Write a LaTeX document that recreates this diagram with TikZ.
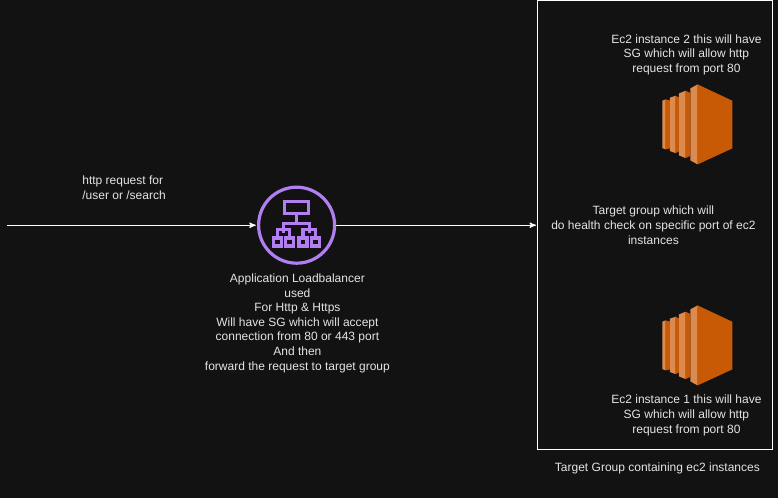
\documentclass[tikz,border=0pt]{standalone}
\usepackage{fontspec}
\setmainfont{Liberation Sans}
\usetikzlibrary{positioning}
\usetikzlibrary{arrows}
\definecolor{canvas}{HTML}{121212}
\definecolor{labelgrey}{HTML}{E4E4E4}
\definecolor{albpurple}{HTML}{B17FF2}
\definecolor{ecdark}{HTML}{C85A06}
\definecolor{eclight}{HTML}{DC8B50}
\tikzset{
  ecicon/.pic={
    \begin{scope}[x=0.025cm,y=-0.025cm]
      \fill[ecdark] (0,-40) -- (34.7,-23.7) -- (34.7,24) -- (0,40) -- cycle;
      \fill[eclight] (-7.3,-36) -- (0,-40) -- (0,40) -- (-7.3,36) -- cycle;
      \fill[ecdark] (-12,-33.7) -- (-7.3,-31.5) -- (-7.3,31.5) -- (-12,33.7) -- cycle;
      \fill[eclight] (-18.7,-31) -- (-12,-33.7) -- (-12,33.7) -- (-18.7,31) -- cycle;
      \fill[ecdark] (-22,-28.7) -- (-18.7,-27) -- (-18.7,27) -- (-22,28.7) -- cycle;
      \fill[eclight] (-27.7,-26.7) -- (-22,-28.7) -- (-22,28.7) -- (-27.7,26.7) -- cycle;
      \fill[ecdark] (-32,-25) -- (-27.7,-24) -- (-27.7,24) -- (-32,25) -- cycle;
      \fill[eclight] (-35.3,-23.7) -- (-32,-25) -- (-32,25) -- (-35.3,23.7) -- cycle;
    \end{scope}
  },
  orgbox/.style={draw=albpurple,line width=0.08cm},
  orgleaf/.style={orgbox,minimum size=0.2cm,inner sep=0pt}
}
\begin{document}
\begin{tikzpicture}[label/.style={text=labelgrey,font=\fontsize{8.54}{10.4}\selectfont,align=center}]

  \fill[canvas] (0,0) rectangle (19.45,-12.45);
  \useasboundingbox (0,0) rectangle (19.45,-12.45);

  % request side
  \coordinate (src) at (0.18,-5.63);
  \node[circle,orgbox,minimum size=1.9cm,inner sep=0pt] (alb) [right=7.235cm of src.center,anchor=center] {};
  \node[draw=white,line width=0.03cm,minimum width=5.86cm,minimum height=11.22cm,inner sep=0pt] (tg) [right=8.96cm of alb.center,anchor=center] {};

  \node[label,align=left] (req) [above right=0.93cm and 1.755cm of src.center,anchor=west] {http request for\\/user or /search};
  \node[label] (albtext) [below=2.45cm of alb.center,anchor=center,xshift=0.02cm] {Application Loadbalancer\\used\\For Http \& Https\\Will have SG which will accept\\connection from 80 or 443 port\\And then\\forward the request to target group};

  % load balancer icon
  \node[orgbox,minimum width=0.6cm,minimum height=0.3cm,inner sep=0pt] (top) [above=0.44cm of alb.center,anchor=center] {};
  \node[orgleaf] (leafa) [below left=0.42cm and 0.47cm of alb.center,anchor=center] {};
  \node[orgleaf] (leafb) [below left=0.42cm and 0.175cm of alb.center,anchor=center] {};
  \node[orgleaf] (leafc) [below right=0.42cm and 0.16cm of alb.center,anchor=center] {};
  \node[orgleaf] (leafd) [below right=0.42cm and 0.48cm of alb.center,anchor=center] {};
  \draw[orgbox] (top.south) -- ++(0,-0.21) -- ++(-0.325,0) -- ++(0,-0.225);
  \draw[orgbox] (top.south) -- ++(0,-0.21) -- ++(0.325,0) -- ++(0,-0.225);
  \draw[orgbox] (leafa.north) -- ++(0,0.17) -| (leafb.north);
  \draw[orgbox] (leafc.north) -- ++(0,0.17) -| (leafd.north);

  % target group
  \coordinate (ectwo) at (17.44,-3.11);
  \coordinate (econe) at (17.44,-8.635);
  \pic at (ectwo) {ecicon};
  \pic at (econe) {ecicon};
  \node[label] (ectwotext) [above=1.74cm of ectwo,anchor=center,xshift=-0.28cm] {Ec2 instance 2 this will have\\SG which will allow http\\request from port 80};
  \node[label] (econetext) [below=1.75cm of econe,anchor=center,xshift=-0.28cm] {Ec2 instance 1 this will have\\SG which will allow http\\request from port 80};
  \node[label] (tgtext) [above=0cm of tg.center,anchor=center,xshift=-0.04cm] {Target group which will\\do health check on specific port of ec2\\instances};
  \node[label] (tgcaption) [below=0.45cm of tg.south,anchor=center,xshift=0.06cm] {Target Group containing ec2 instances};

  \path[->,>={stealth'[scale=2.2]},line width=0.025cm,white,shorten >=0.03cm]
    (src) edge (alb)
    (alb) edge (tg);

\end{tikzpicture}
\end{document}
